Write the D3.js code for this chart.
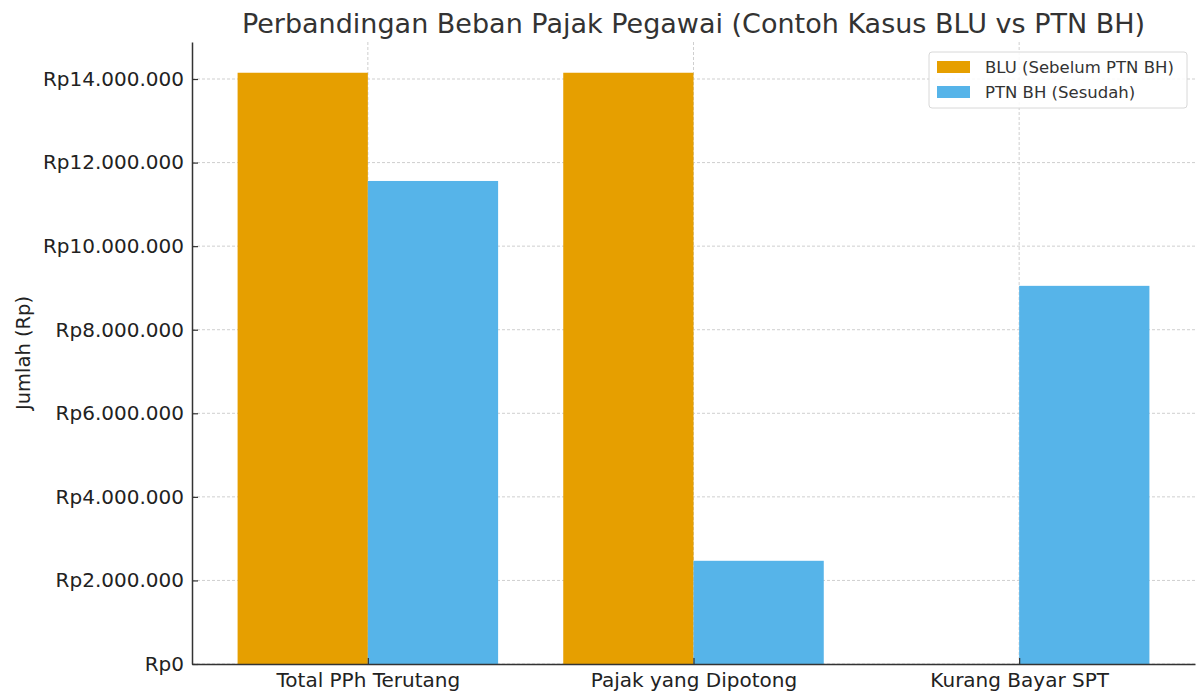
<!DOCTYPE html>
<html>
<head>
<meta charset="utf-8">
<script src="https://cdn.jsdelivr.net/npm/d3@7"></script>
<style>
  body { margin: 0; background: #fff; }
  svg, svg text { font-family: "DejaVu Sans", sans-serif; }
  svg { display: block; }
</style>
</head>
<body>
<svg id="chart" width="1198" height="695"></svg>
<script>
const categories = ['Total PPh Terutang', 'Pajak yang Dipotong', 'Kurang Bayar SPT'];
const series = ['BLU (Sebelum PTN BH)', 'PTN BH (Sesudah)'];
const bluValues = [14150000, 14150000, 0];
const ptnbhValues = [11560000, 2470000, 9050000];
const yTicks = [0, 2000000, 4000000, 6000000, 8000000, 10000000, 12000000, 14000000];
const colors = ['#E69F00', '#56B4E9'];

const width = 1198;
const height = 695;
const margin = {top: 42, right: 3, bottom: 31, left: 192};

const svg = d3.select('#chart');

const barWidth = 0.4;
const x = d3
  .scaleLinear()
  .domain([-0.54, categories.length - 1 + 0.54])
  .range([margin.left, width - margin.right]);

const yMax = 14150000 * 1.052;
const y = d3
  .scaleLinear()
  .domain([0, yMax])
  .range([height - margin.bottom, margin.top]);

const fmt = v => 'Rp' + d3.format(',')(v).replace(/,/g, '.');

// grid
const grid = svg.append('g').attr('class', 'grid');
grid
  .selectAll('line.h')
  .data(yTicks)
  .enter()
  .append('line')
  .attr('x1', margin.left)
  .attr('x2', width - margin.right)
  .attr('y1', d => y(d))
  .attr('y2', d => y(d))
  .style('stroke', '#cfcfcf')
  .style('stroke-dasharray', '3,2')
  .style('stroke-width', 1);
grid
  .selectAll('line.v')
  .data(categories)
  .enter()
  .append('line')
  .attr('x1', (d, i) => x(i))
  .attr('x2', (d, i) => x(i))
  .attr('y1', margin.top)
  .attr('y2', height - margin.bottom)
  .style('stroke', '#cfcfcf')
  .style('stroke-dasharray', '3,2')
  .style('stroke-width', 1);

// bars
const data = [bluValues, ptnbhValues];
data.forEach((vals, s) => {
  svg
    .append('g')
    .selectAll('rect')
    .data(vals)
    .enter()
    .append('rect')
    .attr('x', (d, i) => x(i - barWidth + s * barWidth))
    .attr('width', x(barWidth) - x(0))
    .attr('y', d => y(d))
    .attr('height', d => y(0) - y(d))
    .style('fill', colors[s]);
});

// axes
const yAxis = d3
  .axisLeft(y)
  .tickValues(yTicks)
  .tickFormat(fmt)
  .tickSizeInner(-6)
  .tickSizeOuter(0)
  .tickPadding(8);
const gy = svg
  .append('g')
  .attr('transform', `translate(${margin.left},0)`)
  .call(yAxis)
  .attr('font-family', null);
gy.select('.domain').style('stroke', '#333').style('stroke-width', 1.5);
gy.selectAll('.tick line').style('stroke', '#333').style('stroke-width', 1.2);
gy.selectAll('.tick text')
  .style('font-size', '20px')
  .style('fill', '#222')
  .attr('x', -8);

const xAxis = d3
  .axisBottom(x)
  .tickValues(categories.map((d, i) => i))
  .tickFormat(i => categories[i])
  .tickSizeInner(-6)
  .tickSizeOuter(0)
  .tickPadding(8);
const gx = svg
  .append('g')
  .attr('transform', `translate(0,${height - margin.bottom})`)
  .call(xAxis)
  .attr('font-family', null);
gx.select('.domain').style('stroke', '#333').style('stroke-width', 1.5);
gx.selectAll('.tick line').style('stroke', '#333').style('stroke-width', 1.2);
gx.selectAll('.tick text')
  .style('font-size', '20px')
  .style('fill', '#222')
  .attr('y', 9);

// y label
svg
  .append('text')
  .attr('transform', `translate(23,${(margin.top + height - margin.bottom) / 2}) rotate(-90)`)
  .attr('text-anchor', 'middle')
  .attr('dy', '0.35em')
  .style('font-size', '19.5px')
  .style('fill', '#222')
  .text('Jumlah (Rp)');

// title
svg
  .append('text')
  .attr('x', (margin.left + width - margin.right) / 2)
  .attr('y', 24)
  .attr('text-anchor', 'middle')
  .attr('dy', '0.35em')
  .style('font-size', '27px')
  .style('fill', '#333')
  .text('Perbandingan Beban Pajak Pegawai (Contoh Kasus BLU vs PTN BH)');

// legend
const legend = svg.append('g').attr('transform', 'translate(929,52)');
legend
  .append('rect')
  .attr('width', 258)
  .attr('height', 56)
  .attr('rx', 3)
  .style('fill', '#fff')
  .style('fill-opacity', 0.85)
  .style('stroke', '#d8d8d8');
const items = legend
  .selectAll('g')
  .data(series)
  .enter()
  .append('g')
  .attr('transform', (d, i) => `translate(8,${15 + i * 25})`);
items
  .append('rect')
  .attr('y', -6)
  .attr('width', 33)
  .attr('height', 12)
  .style('fill', (d, i) => colors[i]);
items
  .append('text')
  .attr('x', 48)
  .attr('dy', '0.35em')
  .style('font-size', '16.5px')
  .style('fill', '#333')
  .text(d => d);
</script>
</body>
</html>
